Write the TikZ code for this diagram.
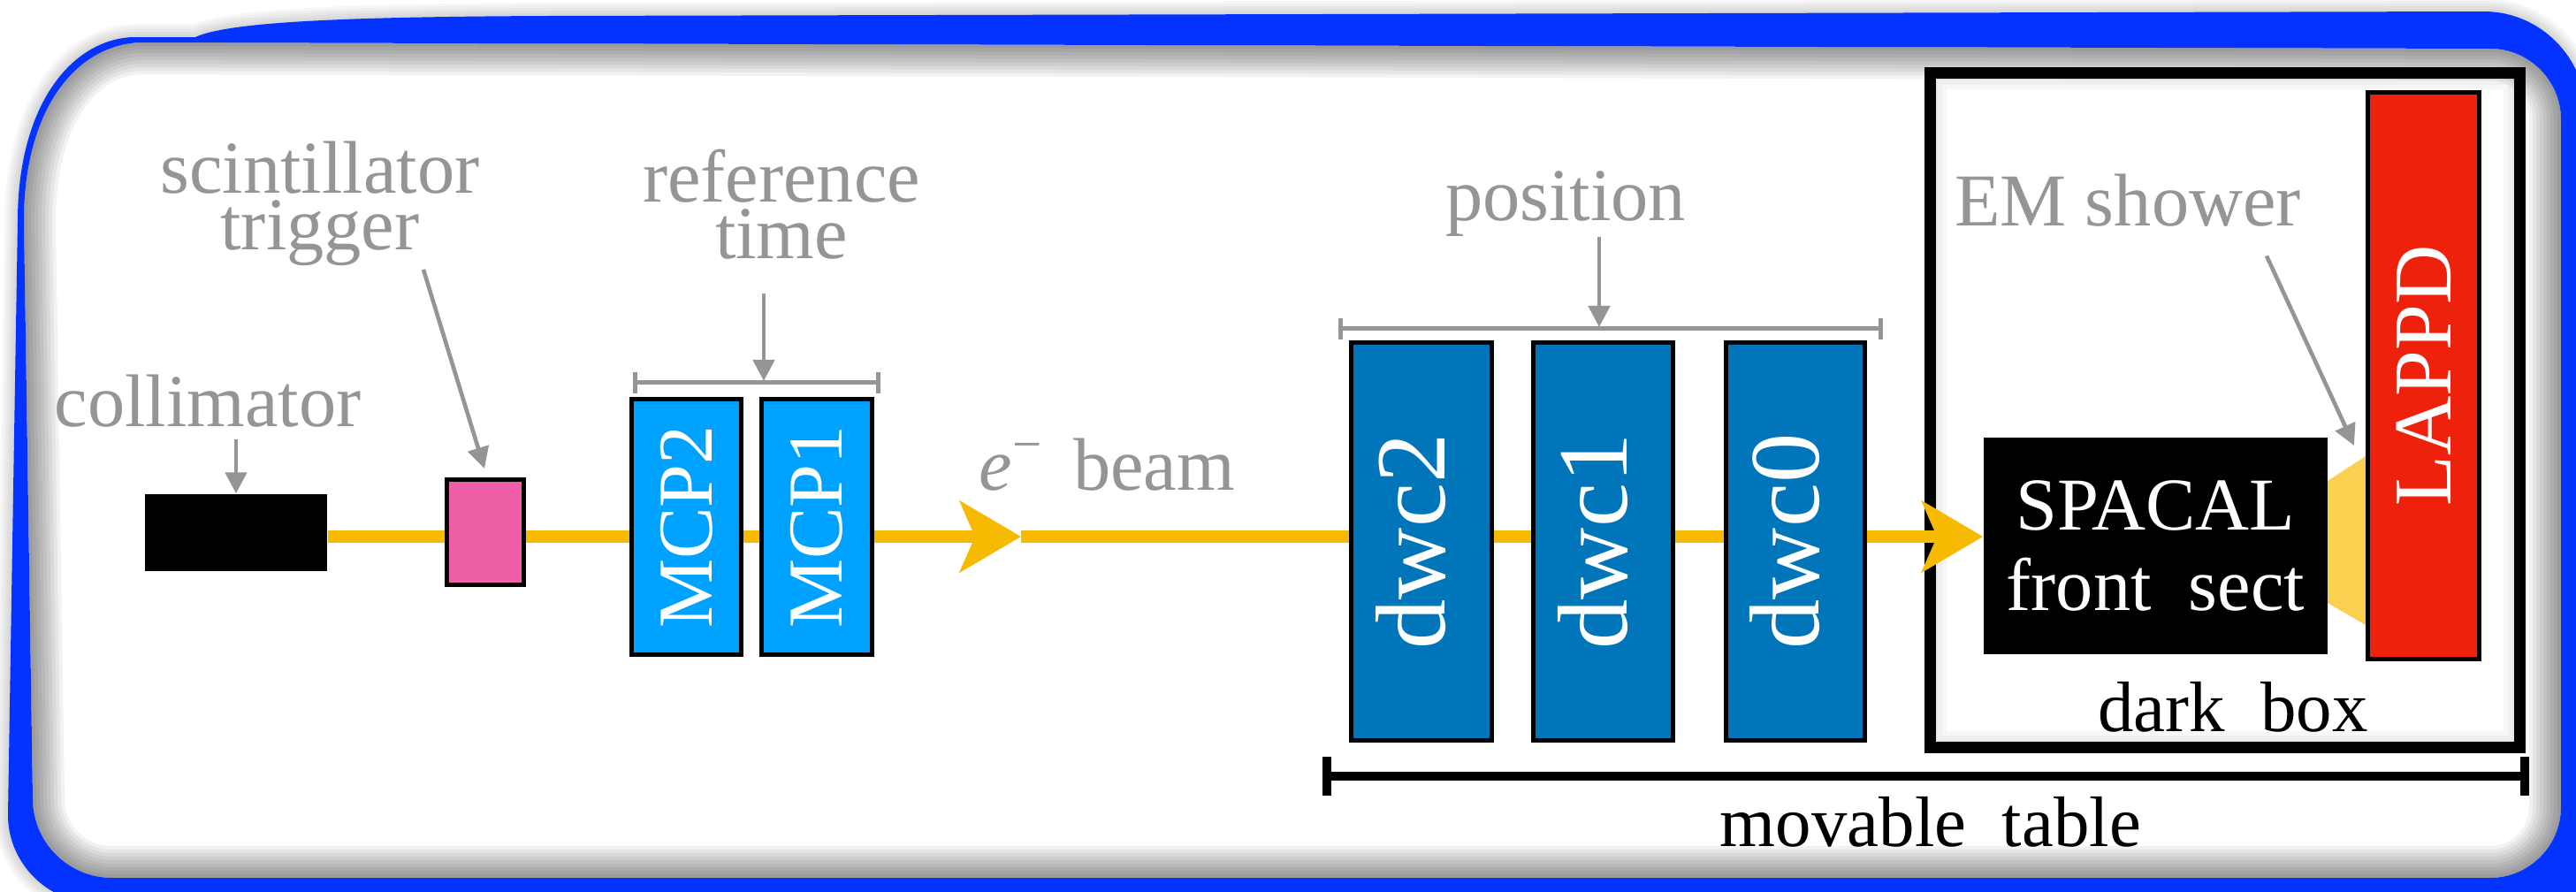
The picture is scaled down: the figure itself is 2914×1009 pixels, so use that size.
\documentclass[tikz,border=0pt]{standalone}
\usepackage{fontspec}
\usepackage{graphicx}
\setmainfont{Liberation Serif}
\usepackage{tikz}
\usetikzlibrary{arrows.meta, positioning, calc}
\definecolor{frameblue}{HTML}{0433FF}
\definecolor{beamorange}{HTML}{F6BA00}
\definecolor{scintpink}{HTML}{EE5FA7}
\definecolor{mcpblue}{HTML}{00A2FF}
\definecolor{dwcblue}{HTML}{0075BA}
\definecolor{lappdred}{HTML}{EE220C}
\definecolor{showeryellow}{HTML}{F9D050}
\definecolor{labelgray}{HTML}{959595}
\pgfdeclarelayer{back}
\pgfdeclarelayer{beamline}
\pgfsetlayers{back,beamline,main}
\newcommand\outerframe{(221,42) .. controls (260,24) and (400,19) .. (620,18) -- (2810,13) .. controls (2873,13) and (2925,65) .. (2925,128) -- (2925,1022) -- (110,1022) .. controls (55,1022) and (9,977) .. (9,922) -- (20,250) .. controls (20,120) and (80,45) .. (150,42) -- cycle}
\newcommand\innerframe{(160,48) -- (2817,55) .. controls (2861,55) and (2897,91) .. (2897,135) -- (2897,913) .. controls (2897,957) and (2861,993) .. (2817,993) -- (127,993) .. controls (77,993) and (37,953) .. (37,903) -- (27,250) .. controls (27,125) and (85,50) .. (160,48) -- cycle}
\tikzset{
	graylabel/.style={font=\fontsize{24}{18}\selectfont, text=labelgray, inner sep=0pt, align=center},
	blacklabel/.style={font=\fontsize{23}{27}\selectfont, inner sep=0pt},
	detector/.style={rectangle, draw=black, line width=0.05cm, inner sep=0pt, text=white},
	pointer/.style={draw=labelgray, line width=0.046cm, -{Triangle[length=0.24cm, width=0.24cm]}},
	span/.style={draw=labelgray, line width=0.05cm, {Bar[width=0.24cm]}-{Bar[width=0.24cm]}},
	tablebar/.style={draw=black, line width=0.1cm, {Bar[width=0.43cm]}-{Bar[width=0.43cm]}},
	beam/.style={draw=beamorange, line width=0.14cm, -{Stealth[length=0.69cm, width=0.8cm, inset=0.17cm]}}
}

\begin{document}
\begin{tikzpicture}[x=0.01cm, y=-0.01cm]
	\useasboundingbox (0,0) rectangle (2914,1009);
	% Rahmen mit Schatten
	\begin{pgfonlayer}{back}
		\fill[white] (0,0) rectangle (2914,1009);
		\begin{scope}
			\clip (0,0) rectangle (2914,1009);
			\foreach \w in {0.06,0.12,...,0.3}
				\draw[black, opacity=0.03, line width=\w cm] \outerframe;
			\begin{scope}
				\clip \innerframe;
				\fill[white] \innerframe;
				\foreach \w in {0.08,0.16,...,0.8}
					\draw[black, opacity=0.05, line width=\w cm] \innerframe;
			\end{scope}
			\fill[frameblue, even odd rule] \outerframe \innerframe;
		\end{scope}
		\node (darkbox) [draw=black, line width=0.13cm, minimum width=6.66cm, minimum height=7.62cm, inner sep=0pt] at (2517,464) {};
		\begin{scope}
			\clip (darkbox.north west) rectangle (darkbox.south east);
			\foreach \w in {0.1,0.2,...,0.5}
				\draw[black, opacity=0.03, line width=\w cm] (darkbox.north west) rectangle (darkbox.south east);
		\end{scope}
	\end{pgfonlayer}
	
	% Strahlelemente
	\node (collim) [fill=black, minimum width=2.06cm, minimum height=0.87cm, inner sep=0pt] at (267,602.5) {};
	\node (scint) [detector, fill=scintpink, minimum width=0.87cm, minimum height=1.19cm] at (549,602) {};
	\node (mcp2) [detector, fill=mcpblue, minimum width=1.24cm, minimum height=2.89cm, font=\fontsize{25}{30}\selectfont] at (776.5,596) {\rotatebox{90}{MCP2}};
	\node (mcp1) [detector, fill=mcpblue, minimum width=1.25cm, minimum height=2.89cm, font=\fontsize{25}{30}\selectfont] at (924,596) {\rotatebox{90}{MCP1}};
	\node (dwc2) [detector, fill=dwcblue, minimum width=1.59cm, minimum height=4.5cm, font=\fontsize{32}{38}\selectfont] at (1608,612.5) {\rotatebox{90}{\strut dwc2}};
	\node (dwc1) [detector, fill=dwcblue, minimum width=1.58cm, minimum height=4.5cm, font=\fontsize{32}{38}\selectfont] at (1813.5,612.5) {\rotatebox{90}{\strut dwc1}};
	\node (dwc0) [detector, fill=dwcblue, minimum width=1.57cm, minimum height=4.5cm, font=\fontsize{32}{38}\selectfont] at (2031,612.5) {\rotatebox{90}{\strut dwc0}};
	\node (spacal) [fill=black, text=white, minimum width=3.89cm, minimum height=2.45cm, inner sep=0pt, align=center, font=\fontsize{24}{25.9}\selectfont] at (2438.5,617.5) {SPACAL\\front\ \ sect};
	\node (lappd) [detector, fill=lappdred, minimum width=1.26cm, minimum height=6.41cm, font=\fontsize{26.5}{32}\selectfont] at (2741.5,425) {\rotatebox{90}{LAPPD}};
	
	% Strahl
	\coordinate (beammid) at (1155,607);
	\begin{pgfonlayer}{beamline}
		\fill[showeryellow] (2633,544) -- (2676,516) -- (2676,707) -- (2633,682) -- cycle;
		\draw[beam] (collim.east |- beammid) -- (beammid);
		\draw[beam] (beammid) -- (spacal.west |- beammid);
	\end{pgfonlayer}
	
	% Beschriftungen
	\node (collimlbl) [graylabel, anchor=base] at (235,482) {collimator};
	\node (scintlbl) [graylabel, anchor=base] at (362,282) {scintillator\\trigger};
	\node (reflbl) [graylabel, anchor=base] at (884,292) {reference\\time};
	\node (poslbl) [graylabel, anchor=base] at (1771,249) {position};
	\node (emlbl) [graylabel, anchor=base] at (2407,255) {EM shower};
	\node (beamlbl) [graylabel, anchor=base west] at (1107,554) {\textit{e}\textsuperscript{−}\hspace{0.4em}beam};
	\node (darklbl) [blacklabel, anchor=base] at (2526,827) {dark\ \ box};
	\node (tablelbl) [blacklabel, anchor=base] at (2184,957) {movable\ \ table};
	
	% Pfeile und Klammern
	\coordinate (refspan) at (864,431);
	\coordinate (posspan) at (1809,370);
	\coordinate (tablel) at (1496,878);
	\coordinate (tabler) at (2861,878);
	\draw[pointer] ($(collimlbl.south -| collim.north)+(0,13)$) -- (collim.north);
	\draw[pointer] ($(scintlbl.south)+(117,4)$) -- ($(scint.north)+(-1,-10)$);
	\draw[pointer] ($(reflbl.south -| refspan)+(0,38)$) -- (refspan);
	\draw[span] ($(mcp2.north west)+(4,-16)$) -- ($(mcp1.north east)+(7,-16)$);
	\draw[pointer] (poslbl.south -| posspan) -- (posspan);
	\draw[span] ($(dwc2.north west)+(-12,-13)$) -- ($(dwc0.north east)+(18,-13)$);
	\draw[pointer] ($(emlbl.south)+(157,33)$) -- ($(lappd.west)+(-13,79)$);
	\draw[tablebar] (tablel) -- (tabler);
\end{tikzpicture}
\end{document}
